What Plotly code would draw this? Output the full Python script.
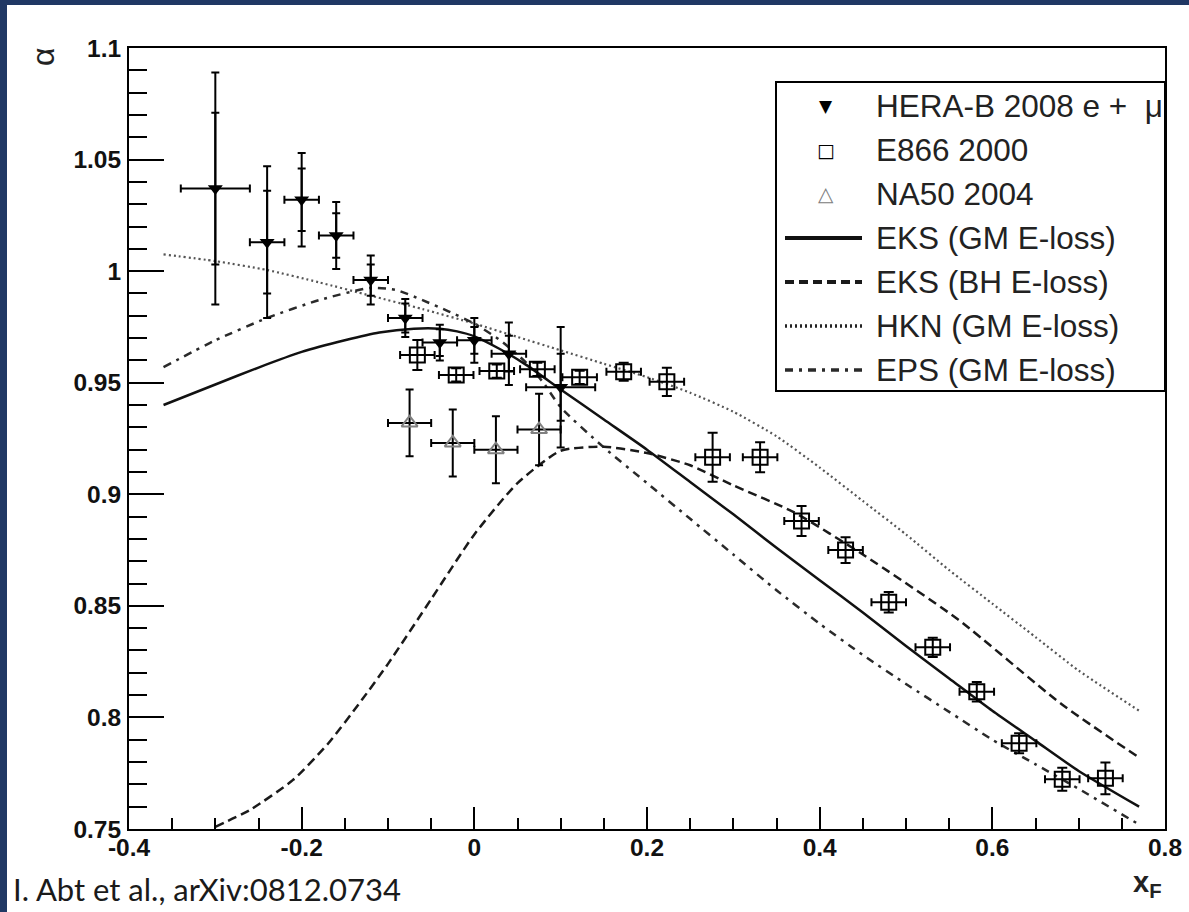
import plotly.graph_objects as go

# ---------------- data ----------------
# HERA-B 2008 (e + mu): alpha vs xF, total and statistical errors
herab_xf = [-0.30, -0.24, -0.20, -0.16, -0.12, -0.08, -0.04, 0.00, 0.04, 0.10]
herab_xf_err = [0.04, 0.02, 0.02, 0.02, 0.02, 0.02, 0.02, 0.02, 0.02, 0.04]
herab_alpha = [1.037, 1.013, 1.032, 1.016, 0.996, 0.979, 0.968, 0.969, 0.963, 0.948]
herab_err_tot = [0.052, 0.034, 0.021, 0.015, 0.011, 0.0085, 0.008, 0.010, 0.014, 0.027]
herab_err_stat = [0.034, 0.023, 0.014, 0.010, 0.007, 0.0065, 0.006, 0.006, 0.008, 0.015]

# E866 2000
e866_xf = [-0.066, -0.021, 0.026, 0.073, 0.122, 0.173, 0.223, 0.276, 0.331,
           0.379, 0.430, 0.480, 0.531, 0.582, 0.631, 0.681, 0.731]
e866_xf_err = [0.02] * 17
e866_alpha = [0.9624, 0.9535, 0.9552, 0.9560, 0.9524, 0.9549, 0.9504, 0.9166, 0.9166,
              0.8880, 0.8750, 0.8516, 0.8314, 0.8115, 0.7884, 0.7723, 0.7727]
e866_err = [0.0067, 0.003, 0.003, 0.003, 0.003, 0.004, 0.0063, 0.011, 0.0067,
            0.0067, 0.0058, 0.0046, 0.0043, 0.0044, 0.0045, 0.0052, 0.0071]

# NA50 2004
na50_xf = [-0.075, -0.025, 0.025, 0.075]
na50_xf_err = [0.025, 0.025, 0.025, 0.025]
na50_alpha = [0.932, 0.923, 0.920, 0.929]
na50_err = [0.015, 0.015, 0.015, 0.016]

# model curves
eks_gm_xf = [-0.36, -0.30, -0.25, -0.20, -0.15, -0.11, -0.07, -0.04, -0.02, 0.00, 0.03, 0.06,
             0.10, 0.15, 0.20, 0.25, 0.30, 0.35, 0.40, 0.45, 0.50, 0.55, 0.60, 0.65,
             0.70, 0.77]
eks_gm_alpha = [0.9400, 0.9492, 0.9568, 0.9638, 0.9690, 0.9725, 0.9742, 0.9742, 0.9730, 0.9708,
                0.9650, 0.958, 0.947, 0.9335, 0.920, 0.9055, 0.891, 0.876, 0.8615, 0.847,
                0.832, 0.8175, 0.803, 0.7895, 0.776, 0.760]

eks_bh_xf = [-0.30, -0.26, -0.21, -0.17, -0.13, -0.10, -0.05, 0.00, 0.05, 0.10, 0.15,
             0.20, 0.25, 0.30, 0.37, 0.45, 0.56, 0.68, 0.77]
eks_bh_alpha = [0.751, 0.7585, 0.772, 0.788, 0.808, 0.824, 0.853, 0.882, 0.905, 0.9195,
                0.9213, 0.9185, 0.913, 0.904, 0.892, 0.873, 0.844, 0.806, 0.782]

hkn_xf = [-0.36, -0.30, -0.24, -0.18, -0.12, -0.06, 0.00, 0.05, 0.10, 0.15, 0.20, 0.25,
          0.30, 0.35, 0.40, 0.45, 0.50, 0.55, 0.60, 0.65, 0.70, 0.77]
hkn_alpha = [1.0075, 1.0045, 1.0005, 0.995, 0.989, 0.983, 0.9765, 0.9705, 0.9645, 0.9585,
             0.9525, 0.9455, 0.937, 0.926, 0.912, 0.897, 0.882, 0.866, 0.851, 0.836,
             0.821, 0.803]

eps_xf = [-0.36, -0.30, -0.24, -0.18, -0.12, -0.09, -0.06, -0.03, 0.00, 0.03, 0.06, 0.08,
          0.10, 0.15, 0.20, 0.25, 0.30, 0.35, 0.40, 0.45, 0.50, 0.55, 0.60, 0.65, 0.70, 0.77]
eps_alpha = [0.957, 0.969, 0.979, 0.987, 0.9925, 0.9915, 0.987, 0.982, 0.9765, 0.969,
             0.959, 0.950, 0.939, 0.921, 0.905, 0.889, 0.873, 0.857, 0.842, 0.828,
             0.815, 0.8025, 0.790, 0.779, 0.768, 0.752]

x_tickvals = [-0.4, -0.2, 0, 0.2, 0.4, 0.6, 0.8]
x_ticktext = ["-0.4", "-0.2", "0", "0.2", "0.4", "0.6", "0.8"]
y_tickvals = [0.75, 0.8, 0.85, 0.9, 0.95, 1.0, 1.05, 1.1]
y_ticktext = ["0.75", "0.8", "0.85", "0.9", "0.95", "1", "1.05", "1.1"]

legend_labels = ["HERA-B 2008 e +  \u03bc", "E866 2000", "NA50 2004",
                 "EKS (GM E-loss)", "EKS (BH E-loss)", "HKN (GM E-loss)", "EPS (GM E-loss)"]

# ---------------- styling ----------------
W, H = 1189, 912
L, R, T, B = 129, 1165, 48, 829
NAVY = "#203864"
TXT = "Liberation Sans"

STYLE_EKS_GM = dict(color="#111111", width=2.5, dash="solid")
STYLE_EKS_BH = dict(color="#1a1a1a", width=2.5, dash="9px,5px")
STYLE_HKN = dict(color="#555555", width=2.2, dash="2px,3px")
STYLE_EPS = dict(color="#2a2a2a", width=2.5, dash="8px,6px,3px,6px")


def px(xp):
    return (xp - L) / (R - L)


def py(yp):
    return 1 - (yp - T) / (B - T)


fig = go.Figure()

# model curves
for xs, ys, st in [(hkn_xf, hkn_alpha, STYLE_HKN), (eps_xf, eps_alpha, STYLE_EPS),
                   (eks_bh_xf, eks_bh_alpha, STYLE_EKS_BH), (eks_gm_xf, eks_gm_alpha, STYLE_EKS_GM)]:
    fig.add_trace(go.Scatter(x=xs, y=ys, mode="lines", line=dict(shape="spline", smoothing=0.6, **st),
                             showlegend=False, hoverinfo="skip"))

# NA50
fig.add_trace(go.Scatter(
    x=na50_xf, y=na50_alpha, mode="markers",
    marker=dict(symbol="triangle-up-open", size=14, color="#808080", line=dict(width=2)),
    error_x=dict(type="data", array=na50_xf_err, color="black", thickness=2, width=4),
    error_y=dict(type="data", array=na50_err, color="black", thickness=2, width=4),
    showlegend=False))

# E866
fig.add_trace(go.Scatter(
    x=e866_xf, y=e866_alpha, mode="markers",
    marker=dict(symbol="square-open", size=15, color="black", line=dict(width=2)),
    error_x=dict(type="data", array=e866_xf_err, color="black", thickness=2, width=4),
    error_y=dict(type="data", array=e866_err, color="black", thickness=2, width=5),
    showlegend=False))

# HERA-B: statistical error ticks
fig.add_trace(go.Scatter(
    x=herab_xf, y=herab_alpha, mode="markers",
    marker=dict(size=1, color="rgba(0,0,0,0)"),
    error_y=dict(type="data", array=herab_err_stat, color="black", thickness=2, width=4),
    showlegend=False, hoverinfo="skip"))

# HERA-B: total errors and markers
fig.add_trace(go.Scatter(
    x=herab_xf, y=herab_alpha, mode="markers",
    marker=dict(symbol="triangle-down", size=13, color="black"),
    error_x=dict(type="data", array=herab_xf_err, color="black", thickness=2, width=4),
    error_y=dict(type="data", array=herab_err_tot, color="black", thickness=2, width=4),
    showlegend=False))

shapes = []
annotations = []

# navy slide border (left and top)
shapes.append(dict(type="rect", xref="paper", yref="paper", x0=px(0), x1=px(7), y0=py(H), y1=py(0),
                   fillcolor=NAVY, line=dict(width=0), layer="above"))
shapes.append(dict(type="rect", xref="paper", yref="paper", x0=px(0), x1=px(W), y0=py(5), y1=py(0),
                   fillcolor=NAVY, line=dict(width=0), layer="above"))

# legend box
shapes.append(dict(type="rect", xref="paper", yref="paper", x0=px(776), x1=px(1165), y0=py(391), y1=py(82),
                   fillcolor="white", line=dict(color="black", width=2), layer="above"))

row_y = [106 + 44 * i for i in range(7)]
marker_glyphs = [("\u25bc", "black", 17), ("\u25a1", "black", 19), ("\u25b3", "#808080", 20)]
for i, (g, c, s) in enumerate(marker_glyphs):
    annotations.append(dict(x=px(826), y=py(row_y[i]), xref="paper", yref="paper", text=g, showarrow=False,
                            font=dict(family="DejaVu Sans", size=s, color=c), xanchor="center", yanchor="middle"))
for i, st in enumerate([STYLE_EKS_GM, STYLE_EKS_BH, STYLE_HKN, STYLE_EPS]):
    y0 = py(row_y[3 + i])
    lw = 4 if i < 2 else 3.5
    shapes.append(dict(type="line", xref="paper", yref="paper", x0=px(785), x1=px(862), y0=y0, y1=y0,
                       line=dict(color=st["color"] if i != 2 else "#222222", width=lw, dash=st["dash"]),
                       layer="above"))
for i, lab in enumerate(legend_labels):
    annotations.append(dict(x=px(874), y=py(row_y[i]), xref="paper", yref="paper", text=lab, showarrow=False,
                            font=dict(family=TXT, size=31.5, color="#222222"), xanchor="left", yanchor="middle"))

# axis titles
annotations.append(dict(x=px(43), y=py(57), xref="paper", yref="paper", text="\u03b1", showarrow=False,
                        textangle=-90, font=dict(family=TXT, size=32, color="#222222"),
                        xanchor="center", yanchor="middle"))
annotations.append(dict(x=px(1164), y=py(884), xref="paper", yref="paper", text="x<sub>F</sub>",
                        showarrow=False, font=dict(family=TXT, size=29, color="#222222", weight="bold"),
                        xanchor="right", yanchor="middle"))

# citation
annotations.append(dict(x=px(11), y=py(889), xref="paper", yref="paper", text="I. Abt et al., arXiv:0812.0734",
                        showarrow=False, font=dict(family="Lato", size=31, color="#1a1a1a"),
                        xanchor="left", yanchor="middle"))

axis_common = dict(showline=True, linecolor="black", linewidth=2, mirror=True, showgrid=False,
                   zeroline=False, ticks="inside", tickcolor="black", tickwidth=2)

fig.update_layout(
    width=W, height=H,
    margin=dict(l=L, r=W - R, t=T, b=H - B, autoexpand=False),
    paper_bgcolor="white", plot_bgcolor="white",
    showlegend=False,
    xaxis=dict(range=[-0.4, 0.8], tickvals=x_tickvals, ticktext=x_ticktext, ticklen=22,
               minor=dict(dtick=0.05, tick0=0, ticks="inside", ticklen=11, tickwidth=2, tickcolor="black"),
               tickfont=dict(family=TXT, size=24.5, color="#111111", weight="bold"),
               ticklabelstandoff=-4, **axis_common),
    yaxis=dict(range=[0.75, 1.1], tickvals=y_tickvals, ticktext=y_ticktext, ticklen=35,
               minor=dict(dtick=0.01, tick0=0.75, ticks="inside", ticklen=18, tickwidth=2, tickcolor="black"),
               tickfont=dict(family=TXT, size=24.5, color="#111111", weight="bold"),
               ticklabelstandoff=1, **axis_common),
    shapes=shapes,
    annotations=annotations,
)

fig.write_html("out.html")
